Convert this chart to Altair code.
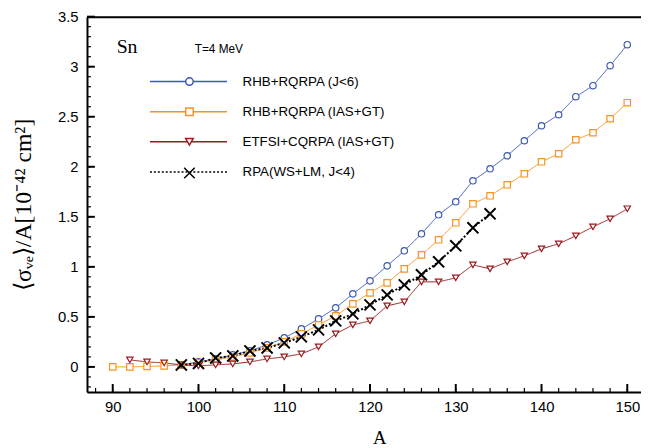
import altair as alt
import pandas as pd

# ---------------- data ----------------
series_names = ["RHB+RQRPA (J<6)", "RHB+RQRPA (IAS+GT)", "ETFSI+CQRPA (IAS+GT)", "RPA(WS+LM, J<4)"]
series_colors = ["#3a58b4", "#f7931e", "#9b1b1e", "#000000"]
series_shapes = ["circle", "square", "triangle-down", "M-1.4,-1.4L1.4,1.4M-1.4,1.4L1.4,-1.4"]
series_dashes = [[1, 0], [1, 0], [1, 0], [2, 2]]
dotted_series = "RPA(WS+LM, J<4)"

A_rhb_j6 = list(range(98, 151, 2))
v_rhb_j6 = [0.02, 0.05, 0.08, 0.12, 0.16, 0.22, 0.29, 0.38, 0.48, 0.59, 0.73, 0.86, 1.01,
            1.16, 1.33, 1.52, 1.65, 1.86, 1.98, 2.11, 2.26, 2.41, 2.52, 2.70, 2.81, 3.01, 3.22]

A_rhb_ias = list(range(90, 151, 2))
v_rhb_ias = [0.0, 0.0, 0.005, 0.01, 0.02, 0.04, 0.07, 0.10, 0.14, 0.19, 0.25, 0.33, 0.42,
             0.51, 0.63, 0.74, 0.84, 0.98, 1.12, 1.27, 1.44, 1.63, 1.71, 1.82, 1.93, 2.05,
             2.13, 2.27, 2.34, 2.48, 2.64]

A_etfsi = list(range(92, 151, 2))
v_etfsi = [0.07, 0.05, 0.04, 0.02, 0.01, 0.02, 0.03, 0.05, 0.08, 0.10, 0.13, 0.20, 0.33,
           0.42, 0.46, 0.61, 0.65, 0.85, 0.85, 0.89, 1.02, 0.98, 1.05, 1.11, 1.18, 1.23,
           1.31, 1.40, 1.48, 1.58]

A_rpa = list(range(98, 135, 2))
v_rpa = [0.02, 0.035, 0.09, 0.11, 0.16, 0.19, 0.24, 0.30, 0.37, 0.46, 0.53, 0.62, 0.72,
         0.82, 0.92, 1.05, 1.21, 1.39, 1.53]

x_major = list(range(90, 151, 10))
x_minor = list(range(88, 152, 2))
y_major = [0, 0.5, 1, 1.5, 2, 2.5, 3, 3.5]
y_minor = [round(-0.2 + 0.1 * i, 1) for i in range(38)]

rows = []
for name, As, vs in zip(series_names, [A_rhb_j6, A_rhb_ias, A_etfsi, A_rpa],
                        [v_rhb_j6, v_rhb_ias, v_etfsi, v_rpa]):
    for a, v in zip(As, vs):
        rows.append({"A": a, "value": v, "series": name})
df = pd.DataFrame(rows)

# ---------------- layout ----------------
W, H = 561, 380
xscale = alt.Scale(domain=[87, 151.6], nice=False, zero=False)
yscale = alt.Scale(domain=[-0.25, 3.5], nice=False, zero=False)
SANS = "Liberation Sans"
SERIF = "Liberation Serif"

base = alt.Chart(df)
solid_f = alt.datum.series != dotted_series
dot_f = alt.datum.series == dotted_series

color_scale = alt.Scale(domain=series_names, range=series_colors)
dash_scale = alt.Scale(domain=series_names, range=series_dashes)
# marker scales list the domain in reverse so the marker legend stays separate from the line legend
rev_names = series_names[::-1]
stroke_scale = alt.Scale(domain=rev_names, range=series_colors[::-1])
shape_scale = alt.Scale(domain=rev_names, range=series_shapes[::-1])

line_legend = alt.Legend(
    orient="none", legendX=96, legendY=59, title=None,
    symbolType="M-13,0H13", symbolSize=36, symbolOpacity=1,
    labelFont=SANS, labelFontSize=13.5, labelColor="black",
    labelOffset=48, rowPadding=15.5, labelLimit=400,
)
marker_legend = alt.Legend(
    orient="none", legendX=97, legendY=59, title=None, values=series_names,
    labelExpr="''", labelFontSize=13.5, labelOffset=48,
    rowPadding=15.5, symbolFillColor="white", symbolOpacity=1, symbolSize=58,
)

x_lab_axis = alt.Axis(orient="bottom", values=x_major, grid=False, ticks=False,
                      domainColor="black", domainWidth=2, labelFont=SANS, labelFontSize=15,
                      labelColor="black", labelPadding=8, labelFlush=False,
                      title="A", titleFont=SERIF, titleFontSize=19, titleFontWeight="normal",
                      titleColor="black", titlePadding=14, titleX=296)
y_lab_axis = alt.Axis(orient="left", values=y_major, format="~g", grid=False, ticks=False,
                      domainColor="black", domainWidth=2, labelFont=SANS, labelFontSize=15,
                      labelColor="black", labelPadding=9, labelFlush=False,
                      title="⟨σᵥₑ⟩/A[10⁻⁴² cm²]", titleFont=SERIF, titleFontSize=24,
                      titleFontWeight="normal", titleColor="black", titlePadding=22)

lines_solid = base.mark_line(strokeWidth=1).encode(
    x=alt.X("A:Q", scale=xscale, axis=x_lab_axis),
    y=alt.Y("value:Q", scale=yscale, axis=y_lab_axis),
    color=alt.Color("series:N", scale=color_scale, legend=line_legend),
    strokeDash=alt.StrokeDash("series:N", scale=dash_scale),
).transform_filter(solid_f)

line_dotted = base.mark_line(strokeWidth=2).encode(
    x=alt.X("A:Q", scale=xscale, axis=None),
    y=alt.Y("value:Q", scale=yscale, axis=None),
    color=alt.Color("series:N", scale=color_scale),
    strokeDash=alt.StrokeDash("series:N", scale=dash_scale),
).transform_filter(dot_f)

points_main = base.mark_point(filled=True, fill="white", opacity=1, size=42, strokeWidth=1.2).encode(
    x=alt.X("A:Q", scale=xscale, axis=None),
    y=alt.Y("value:Q", scale=yscale, axis=None),
    stroke=alt.Stroke("series:N", scale=stroke_scale, legend=marker_legend),
    shape=alt.Shape("series:N", scale=shape_scale),
).transform_filter(solid_f)

points_x = base.mark_point(filled=True, fill="white", opacity=1, size=64, strokeWidth=2).encode(
    x=alt.X("A:Q", scale=xscale, axis=None),
    y=alt.Y("value:Q", scale=yscale, axis=None),
    stroke=alt.Stroke("series:N", scale=stroke_scale),
    shape=alt.Shape("series:N", scale=shape_scale),
).transform_filter(dot_f)

frame_top = base.mark_point(opacity=0).encode(
    x=alt.X("A:Q", scale=xscale,
            axis=alt.Axis(orient="top", labels=False, ticks=False, grid=False,
                          domainColor="black", domainWidth=2, title=None)),
    y=alt.Y("value:Q", scale=yscale, axis=None),
)


# inward axis ticks, placed through the axis scales at the tick values
def y_ticks(values, length, width):
    return alt.Chart(pd.DataFrame({"v": values})).mark_rule(color="black", strokeWidth=width).encode(
        y=alt.Y("v:Q", scale=yscale, axis=None), x=alt.value(0), x2=alt.value(length))


def x_ticks(values, length, width):
    return alt.Chart(pd.DataFrame({"v": values})).mark_rule(color="black", strokeWidth=width).encode(
        x=alt.X("v:Q", scale=xscale, axis=None), y=alt.value(H), y2=alt.value(H - length))


sn = alt.Chart(pd.DataFrame({"t": ["Sn"]})).mark_text(
    font=SERIF, fontSize=20, align="left", baseline="alphabetic", color="black"
).encode(x=alt.value(30), y=alt.value(37), text="t:N")
temp = alt.Chart(pd.DataFrame({"t": ["T=4 MeV"]})).mark_text(
    font=SANS, fontSize=12, align="left", baseline="alphabetic", color="black"
).encode(x=alt.value(109), y=alt.value(37), text="t:N")

chart = alt.layer(
    y_ticks(y_minor, 4, 1.2), y_ticks(y_major, 8, 2),
    x_ticks(x_minor, 4, 1.2), x_ticks(x_major, 8, 2),
    lines_solid, line_dotted, points_main, points_x, frame_top, sn, temp
).resolve_axis(x="independent", y="independent").properties(
    width=W, height=H,
    padding={"left": 80, "top": 6, "right": 0, "bottom": 54},
    autosize=alt.AutoSizeParams(type="none"),
).configure_view(stroke=None).configure(background="white")

chart.save("out.html", embed_options={"renderer": "svg", "actions": False})
